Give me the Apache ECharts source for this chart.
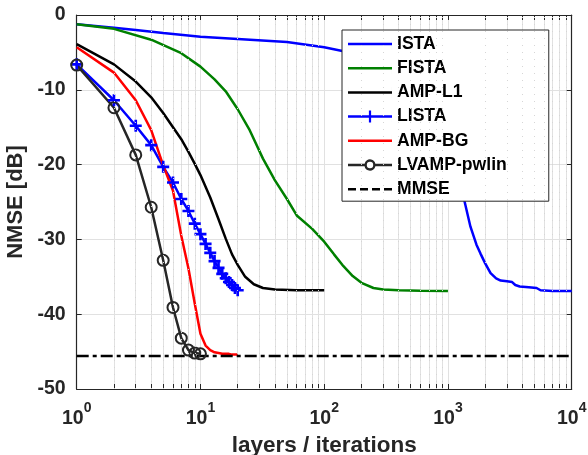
<!DOCTYPE html>
<html>
<head>
<meta charset="utf-8">
<script src="https://cdn.jsdelivr.net/npm/echarts@6/dist/echarts.min.js"></script>
<style>html,body{margin:0;padding:0;background:#fff}#c{width:588px;height:455px}</style>
</head>
<body>
<div id="c"></div>
<script>
// ---- data ----
const xTickLabels = [1, 10, 100, 1000, 10000];
const yTicks = [0, -10, -20, -30, -40, -50];

const istaIter = [1,2,3,5,10,20,50,100,150,200,300,500,700,850,1000,1150,1352,1520,1700,1832,2000,2210,2450,2665,3000,3300,3500,3800,4500,5200,5600,7000,10000];
const istaNmse = [-1.25,-1.7,-2.0,-2.4,-2.9,-3.2,-3.6,-4.3,-4.9,-5.4,-6.3,-7.8,-9.8,-12,-15,-19.5,-24.7,-28.3,-30.7,-31.9,-33.2,-34.5,-35.2,-35.5,-35.6,-35.7,-36.1,-36.3,-36.4,-36.5,-36.8,-36.9,-36.9];

const fistaIter = [1,2,4,7,10,13,16,20,25,32,40,50,60,80,100,120,140,170,200,250,300,400,600,1000];
const fistaNmse = [-1.25,-1.85,-3.3,-5.1,-6.9,-8.6,-10.2,-12.6,-15.4,-19.2,-22.1,-24.6,-26.8,-28.6,-30.3,-32.0,-33.4,-34.9,-35.8,-36.5,-36.7,-36.8,-36.85,-36.9];

const ampL1Iter = [1,2,3,4,5,6,7,8,9,10,12,14,16,18,20,23,27,32,40,60,100];
const ampL1Nmse = [-3.9,-6.6,-8.9,-11.0,-13.1,-15.0,-16.6,-18.3,-19.9,-21.4,-24.4,-27.3,-29.9,-32.0,-33.4,-35.0,-36.0,-36.5,-36.7,-36.8,-36.8];

const listaLayers = [1,2,3,4,5,6,7,8,9,10,11,12,13,14,15,16,17,18,19,20];
const listaNmse = [-6.6,-11.4,-14.8,-17.4,-20.3,-22.4,-24.6,-26.2,-27.9,-29.3,-30.6,-31.8,-32.9,-33.8,-34.6,-35.2,-35.7,-36.1,-36.5,-36.8];

const ampBgIter = [1,2,3,4,5,6,7,8,9,10,11,12,13,14,15,16,17,18,19,20];
const ampBgNmse = [-4.3,-7.7,-11.4,-15.4,-20.1,-23.5,-29.5,-33.9,-38.6,-42.6,-44.2,-44.8,-45.1,-45.2,-45.3,-45.3,-45.3,-45.4,-45.4,-45.4];

const lvampLayers = [1,2,3,4,5,6,7,8,9,10];
const lvampNmse = [-6.7,-12.4,-18.7,-25.7,-32.8,-39.1,-43.2,-44.8,-45.2,-45.3];

const mmseIter = [1, 10000];
const mmseNmse = [-45.6, -45.6];

const seriesNames = ['ISTA','FISTA','AMP-L1','LISTA','AMP-BG','LVAMP-pwlin','MMSE'];

// ---- helpers ----
const zip = (a, b) => a.map((v, i) => [v, b[i]]);
const minorX = [];
for (let d = 1; d <= 1000; d *= 10) for (let k = 2; k <= 9; k++) minorX.push(k * d);
const allXTicks = xTickLabels.concat(minorX).sort((a, b) => a - b);

const FONT = '"Liberation Sans", Arial, Helvetica, sans-serif';
const AX = '#262626';

// legend icons (44 x 12 box)
const iconLine = 'M0,4.75H44V7.25H0Z';
const iconPlus = 'M0,4.75H20.9V0H23.1V4.75H44V7.25H23.1V12H20.9V7.25H0Z';
const iconCircle = 'M0,4.75H16.6A5.5,5.5,0,0,1,27.4,4.75H44V7.25H27.4A5.5,5.5,0,0,1,16.6,7.25H0Z M18.8,6A3.2,3.2,0,0,0,25.2,6A3.2,3.2,0,0,0,18.8,6Z';
const iconDash = 'M0,4.75H8V7.25H0Z M12,4.75H20V7.25H12Z M24,4.75H32V7.25H24Z M36,4.75H44V7.25H36Z';
const frame = 'M0,0H0.01V12H0Z M43.99,0H44V12H43.99Z ';

const chart = echarts.init(document.getElementById('c'), null, {renderer: 'canvas'});

const xLabel = {
  show: true,
  margin: 12,
  formatter: v => '{b|10}{s|' + Math.round(Math.log10(v)) + '}',
  rich: {
    b: {fontSize: 19.5, fontWeight: 'bold', fontFamily: FONT, color: AX, lineHeight: 28, verticalAlign: 'bottom'},
    s: {fontSize: 14, fontWeight: 'bold', fontFamily: FONT, color: AX, lineHeight: 12, verticalAlign: 'top'}
  }
};

const lineBase = {type: 'line', showSymbol: false, symbol: 'none', animation: false, z: 3, emphasis: {disabled: true}};
const legendItem = (name, icon, color) => ({name: name, icon: 'path://' + frame + icon, itemStyle: {color: color, borderWidth: 0, opacity: 1}});

const option = {
  animation: false,
  backgroundColor: '#fff',
  grid: {left: 76.7, right: 16.3, top: 15, bottom: 66, containLabel: false, outerBoundsMode: 'none'},
  legend: {
    orient: 'vertical',
    left: 342, top: 30,
    data: [
      legendItem('ISTA', iconLine, '#0000ff'),
      legendItem('FISTA', iconLine, '#008000'),
      legendItem('AMP-L1', iconLine, '#000000'),
      legendItem('LISTA', iconPlus, '#0000ff'),
      legendItem('AMP-BG', iconLine, '#ff0000'),
      legendItem('LVAMP-pwlin', iconCircle, '#262626'),
      legendItem('MMSE', iconDash, '#000000')
    ],
    itemWidth: 44, itemHeight: 12, itemGap: 4.2,
    symbolKeepAspect: true,
    padding: [4, 42, 2, 6],
    backgroundColor: '#fff',
    borderColor: AX, borderWidth: 1,
    textStyle: {fontSize: 17.6, fontWeight: 'bold', fontFamily: FONT, color: '#000', lineHeight: 20},
    selectedMode: false
  },
  xAxis: [{
    type: 'log', logBase: 10, min: 1, max: 10000,
    position: 'bottom',
    name: 'layers / iterations', nameLocation: 'middle', nameGap: 44,
    nameTextStyle: {fontSize: 22.5, fontWeight: 'bold', fontFamily: FONT, color: AX},
    axisLine: {show: true, onZero: false, lineStyle: {color: AX, width: 1.2}},
    axisTick: {show: true, inside: true, length: 5, customValues: allXTicks, lineStyle: {color: AX, width: 1}},
    axisLabel: xLabel,
    splitLine: {show: true, lineStyle: {color: '#e1e1e1', width: 1}},
    minorTick: {show: false}
  }, {
    type: 'log', logBase: 10, min: 1, max: 10000,
    position: 'top',
    axisLine: {show: true, onZero: false, lineStyle: {color: AX, width: 1.2}},
    axisTick: {show: true, inside: true, length: 5, customValues: allXTicks, lineStyle: {color: AX, width: 1}},
    axisLabel: {show: false},
    splitLine: {show: false}
  }],
  yAxis: [{
    type: 'value', min: -50, max: 0, interval: 10,
    position: 'left',
    name: 'NMSE [dB]', nameLocation: 'middle', nameGap: 46, nameRotate: 90,
    nameTextStyle: {fontSize: 22, fontWeight: 'bold', fontFamily: FONT, color: AX},
    axisLine: {show: true, onZero: false, lineStyle: {color: AX, width: 1.2}},
    axisTick: {show: true, inside: true, length: 5, customValues: yTicks, lineStyle: {color: AX, width: 1}},
    axisLabel: {fontSize: 19.5, fontWeight: 'bold', fontFamily: FONT, color: AX, margin: 11},
    splitLine: {show: true, lineStyle: {color: '#e1e1e1', width: 1}}
  }, {
    type: 'value', min: -50, max: 0, interval: 10,
    position: 'right',
    axisLine: {show: true, onZero: false, lineStyle: {color: AX, width: 1.2}},
    axisTick: {show: true, inside: true, length: 5, lineStyle: {color: AX, width: 1}},
    axisLabel: {show: false},
    splitLine: {show: false}
  }],
  series: [
    {
      type: 'line', name: '_minorgrid', data: [], z: 1, silent: true,
      markLine: {
        silent: true, symbol: ['none', 'none'], animation: false,
        label: {show: false},
        lineStyle: {type: [1, 6], color: '#d6d6d6', width: 1},
        emphasis: {disabled: true},
        data: minorX.map(v => ({xAxis: v}))
      }
    },
    Object.assign({}, lineBase, {name: 'ISTA', data: zip(istaIter, istaNmse), color: '#0000ff', lineStyle: {color: '#0000ff', width: 2.5}}),
    Object.assign({}, lineBase, {name: 'FISTA', data: zip(fistaIter, fistaNmse), color: '#008000', lineStyle: {color: '#008000', width: 2.5}}),
    Object.assign({}, lineBase, {name: 'AMP-L1', data: zip(ampL1Iter, ampL1Nmse), color: '#000000', lineStyle: {color: '#000000', width: 2.5}}),
    Object.assign({}, lineBase, {name: 'LISTA', data: zip(listaLayers, listaNmse), color: '#0000ff',
      showSymbol: true, symbol: 'path://M-1.1,-5H1.1V-1.1H5V1.1H1.1V5H-1.1V1.1H-5V-1.1H-1.1Z', symbolSize: 12,
      itemStyle: {color: '#0000ff'}, lineStyle: {color: '#0000ff', width: 2.5}}),
    Object.assign({}, lineBase, {name: 'AMP-BG', data: zip(ampBgIter, ampBgNmse), color: '#ff0000', lineStyle: {color: '#ff0000', width: 2.5}}),
    Object.assign({}, lineBase, {name: 'LVAMP-pwlin', data: zip(lvampLayers, lvampNmse), color: '#262626',
      showSymbol: true, symbol: 'circle', symbolSize: 11,
      itemStyle: {color: 'rgba(255,255,255,0)', borderColor: '#262626', borderWidth: 2},
      lineStyle: {color: '#262626', width: 2.5}}),
    Object.assign({}, lineBase, {name: 'MMSE', data: zip(mmseIter, mmseNmse), color: '#000000',
      lineStyle: {color: '#000000', width: 2.5, type: [12, 4, 4, 4], cap: 'butt'}})
  ]
};
chart.setOption(option);
</script>
</body>
</html>
